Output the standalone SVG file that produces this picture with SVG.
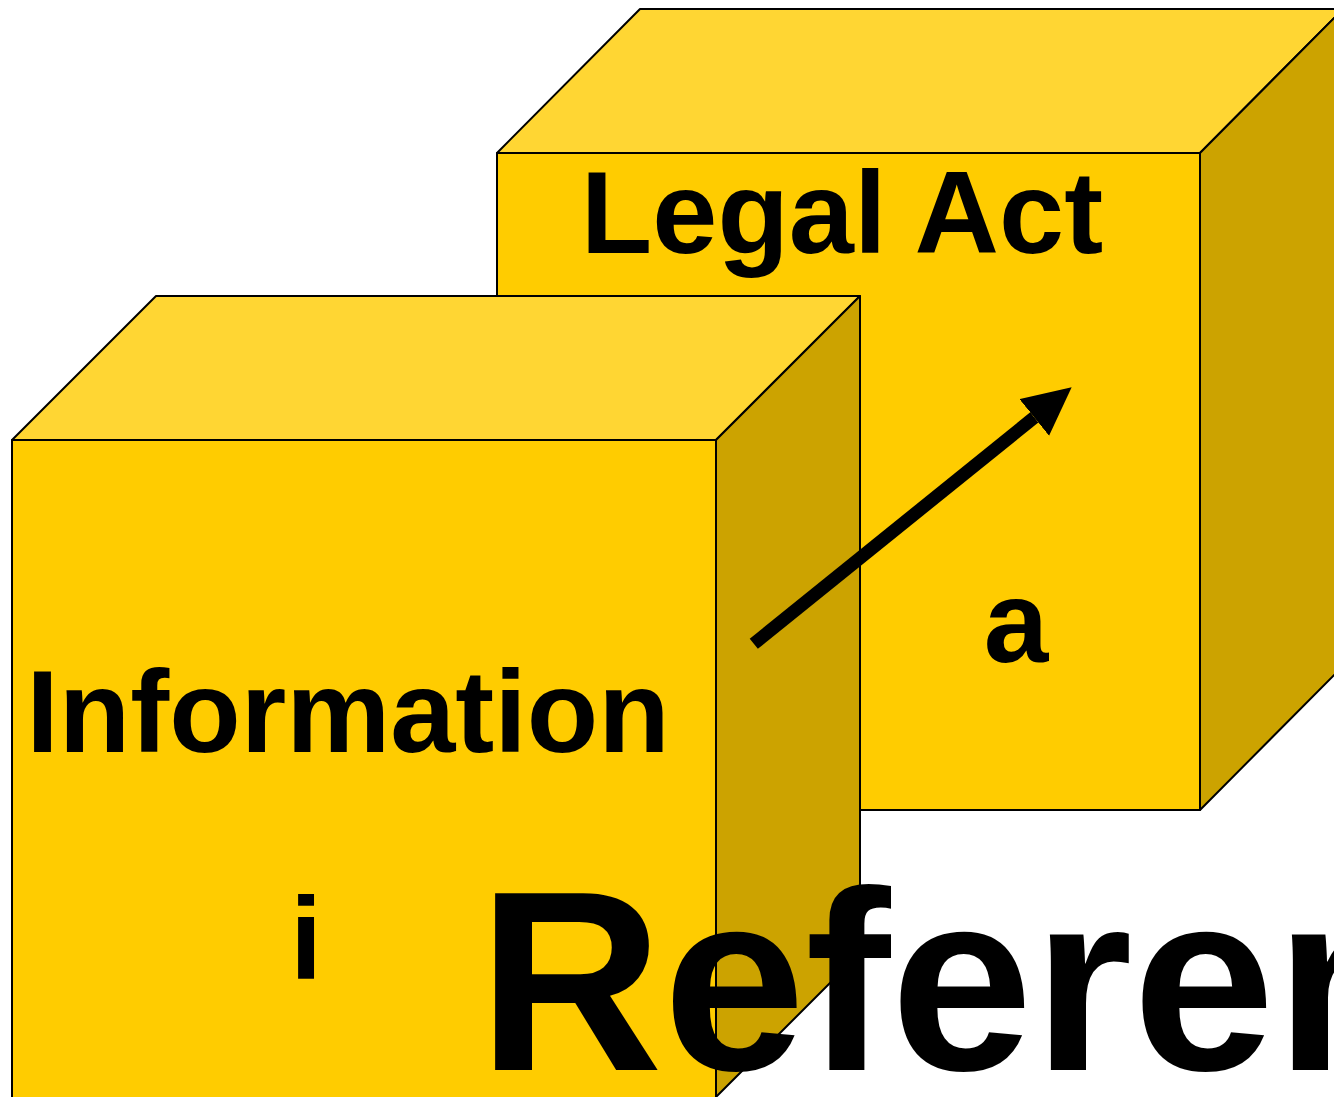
<svg xmlns="http://www.w3.org/2000/svg" width="1334" height="1097" viewBox="0 0 1334 1097">
  <style>
    .front { fill: #FFCC00; stroke: #000; stroke-width: 2; stroke-linejoin: round; }
    .top { fill: #FFD633; stroke: #000; stroke-width: 2; stroke-linejoin: round; }
    .side { fill: #CCA300; stroke: #000; stroke-width: 2; stroke-linejoin: round; }
    .lbl { font-family: "Liberation Sans", Arial, Helvetica, sans-serif; font-weight: bold; fill: #000; }
  </style>
  <defs>
    <marker id="head" markerUnits="userSpaceOnUse" markerWidth="50" markerHeight="50" viewBox="0 0 50 50" refX="0" refY="23.5" orient="auto">
      <path d="M0,0 L48,23.5 L0,47 Z" fill="#000"/>
    </marker>
  </defs>
  <rect width="1334" height="1097" fill="#fff"/>
  <g id="legal-act">
    <polygon class="top" points="497,153 640,9 1343,9 1200,153"/>
    <polygon class="side" points="1200,153 1343,9 1343,666 1200,810"/>
    <rect class="front" x="497" y="153" width="703" height="657"/>
    <text class="lbl" x="842" y="253" font-size="117" text-anchor="middle">Legal Act</text>
    <text class="lbl" x="1016" y="662" font-size="116" text-anchor="middle">a</text>
  </g>
  <g id="information">
    <polygon class="top" points="12,440 156,296 860,296 716,440"/>
    <polygon class="side" points="716,440 860,296 860,953 716,1097"/>
    <rect class="front" x="12" y="440" width="704" height="660"/>
    <text class="lbl" x="348" y="752" font-size="117" text-anchor="middle">Information</text>
    <text class="lbl" x="306" y="979" font-size="116" text-anchor="middle">i</text>
  </g>
  <g id="connectors">
    <line x1="753.8" y1="643.8" x2="1034.3" y2="417.4" stroke="#000" stroke-width="13" marker-end="url(#head)"/>
  </g>
  <g id="title">
    <text class="lbl" x="478" y="1070" font-size="256">Reference</text>
  </g>
</svg>
